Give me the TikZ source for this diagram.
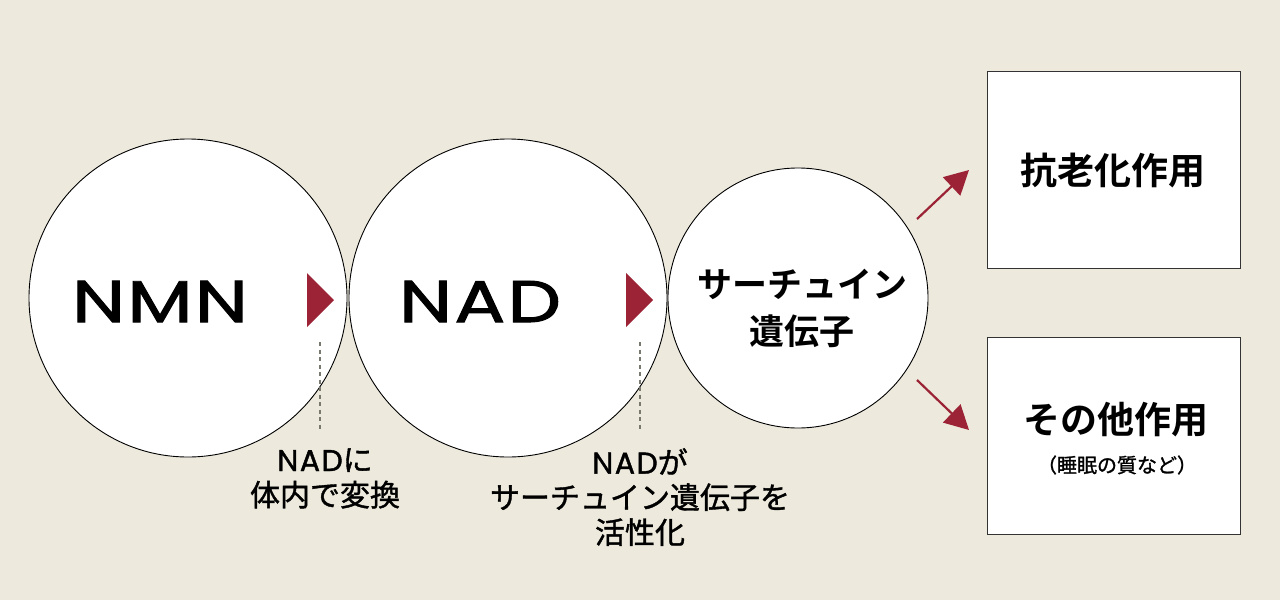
\documentclass[tikz,border=0pt]{standalone}
\usepackage{fontspec}
\setmainfont{Poppins}
\newfontfamily\jp[FakeBold=1.3]{Noto Sans CJK JP}
\newfontfamily\jpb{Noto Sans CJK JP Bold}
\newfontfamily\lat[LetterSpace=3,FakeBold=1.5]{Poppins}
\newfontfamily\latsm[LetterSpace=5,FakeBold=1.3]{Poppins}
\usetikzlibrary{arrows.meta}
\definecolor{bg}{RGB}{237,234,221}
\definecolor{wine}{RGB}{155,35,53}
\definecolor{dash}{RGB}{120,120,110}
\tikzset{
  circ/.style={circle,draw=black,line width=0.9pt,fill=white,inner sep=0pt},
  effbox/.style={rectangle,draw=black!80,line width=0.9pt,fill=white,minimum width=253pt,minimum height=197pt,inner sep=0pt},
  tri/.style={fill=wine},
  guide/.style={draw=dash,line width=1.3pt,dash pattern=on 4pt off 3.5pt},
  lbl/.style={align=center,font=\jp\fontsize{30}{35}\selectfont,inner sep=0pt},
  big/.style={font=\lat\fontsize{59}{64}\selectfont,xscale=1.28,transform shape,inner sep=0pt},
  redarrow/.style={draw=wine,line width=2.2pt,-{Triangle[length=24pt,width=25pt]}}
}
\begin{document}
\begin{tikzpicture}[x=1pt,y=-1pt]
\fill[bg] (0,0) rectangle (1280,600);
\useasboundingbox (0,0) rectangle (1280,600);
% circles
\node[circ,minimum size=318pt] (nmn) at (188,298) {};
\node[circ,minimum size=318pt] (nad) at (508,298) {};
\node[circ,minimum size=260pt] (sir) at (798,298) {};
\node[big] (nmnt) at (160,301.5) {NMN};
\node[big] (nadt) at (480,301.5) {NAD};
\node[align=center,font=\jpb\fontsize{35}{47}\selectfont,inner sep=0pt] (sirt) at (802,308) {サーチュイン\\遺伝子};
% triangles
\fill[tri] (307,273) -- (334,300) -- (307,327) -- cycle;
\fill[tri] (626,273) -- (653,300) -- (626,327) -- cycle;
% guides
\coordinate (g1a) at (320,342); \coordinate (g1b) at (320,431);
\coordinate (g2a) at (640,342); \coordinate (g2b) at (640,431);
\draw[guide] (g1a) -- (g1b);
\draw[guide] (g2a) -- (g2b);
% labels
\node[lbl,anchor=north] (l1) at (325,448) {{\latsm NAD}に\\体内で変換};
\node[lbl,anchor=north] (l2) at (640,448) {{\latsm NAD}が\\サーチュイン遺伝子を\\活性化};
% boxes
\node[effbox] (b1) at (1113.5,169.5) {};
\node[effbox] (b2) at (1113.5,435.5) {};
\node[font=\jpb\fontsize{37}{44}\selectfont] (t1) at (1113,171) {抗老化作用};
\node[font=\jpb\fontsize{37}{44}\selectfont] (t2) at (1116,420) {その他作用};
\node[font=\jp\fontsize{20}{24}\selectfont] (t3) at (1117,465) {（睡眠の質など）};
% arrows
\coordinate (a1s) at (917,219); \coordinate (a1e) at (969,170);
\coordinate (a2s) at (917,380); \coordinate (a2e) at (969,430);
\draw[redarrow] (a1s) -- (a1e);
\draw[redarrow] (a2s) -- (a2e);
\end{tikzpicture}
\end{document}
